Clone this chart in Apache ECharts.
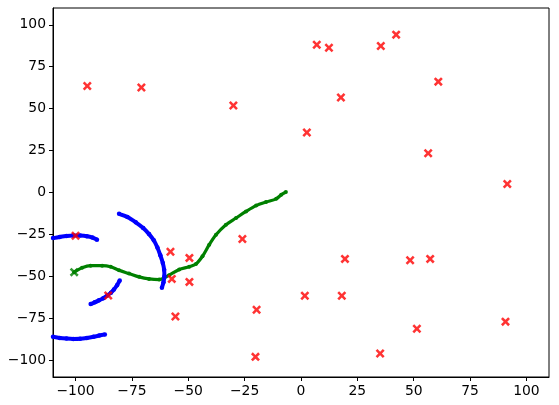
<!DOCTYPE html>
<html>
<head>
<meta charset="utf-8">
<script src="https://cdn.jsdelivr.net/npm/echarts@6/dist/echarts.min.js"></script>
<style>
  html, body { margin: 0; padding: 0; background: #fff; }
  #chart { width: 559px; height: 405px; }
</style>
</head>
<body>
<div id="chart"></div>
<script>
// tick positions on both axes
var xTicks = [-100, -75, -50, -25, 0, 25, 50, 75, 100]
var yTicks = [-100, -75, -50, -25, 0, 25, 50, 75, 100]

// red crosses
var redPoints = [
  [-94.8, 63.5], [-70.8, 62.6], [-30.0, 51.9], [2.6, 35.8], [7.0, 88.1],
  [12.4, 86.3], [35.4, 87.3], [42.2, 94.1], [60.9, 66.1], [17.7, 56.6],
  [56.4, 23.4], [91.5, 5.1], [19.5, -39.6], [48.4, -40.4], [57.3, -39.6],
  [1.7, -61.6], [18.1, -61.6], [51.4, -81.2], [90.7, -77.0], [35.1, -96.0],
  [-100.0, -25.8], [-57.9, -35.3], [-49.5, -39.0], [-26.0, -27.7], [-57.3, -51.5],
  [-49.5, -53.3], [-55.7, -73.9], [-19.7, -69.9], [-85.5, -61.4], [-20.2, -98.0]
]

// start point of the green path
var greenStart = [[-100.6, -47.5]]

// green path
var greenPath = [
  [-100.6, -47.5], [-97.1, -44.9], [-93.3, -43.6], [-88.2, -43.6], [-84.4, -44.3],
  [-80.7, -46.4], [-76.3, -48.3], [-71.8, -50.3], [-67.4, -51.5], [-62.9, -51.9],
  [-58.5, -49.3], [-54.0, -45.9], [-49.6, -44.3], [-46.6, -42.6], [-43.7, -38.0],
  [-40.7, -31.1], [-37.7, -25.2], [-33.3, -19.2], [-28.8, -15.2], [-24.4, -11.3],
  [-19.9, -7.8], [-15.5, -5.7], [-11.0, -3.8], [-8.8, -1.4], [-6.7, 0.3]
]

// blue arcs
var blueArc1 = [
  [-110, -27.2], [-107, -26.5], [-104, -25.9], [-101, -25.6], [-98, -25.7],
  [-95, -26.1], [-92.5, -26.9], [-90.5, -28.1]
]
var blueArc2 = [
  [-80.7, -12.7], [-77, -14.6], [-73.3, -17.8], [-70, -21.2], [-67.4, -24.8],
  [-65.3, -28.5], [-63.7, -32.8], [-62.4, -37.4], [-61.3, -42], [-60.7, -46],
  [-60.6, -50], [-61, -53.5], [-61.7, -56.8]
]
var blueArc3 = [
  [-93.3, -66.5], [-91.5, -65.5], [-89.6, -64.3], [-87.7, -63], [-85.9, -61.4],
  [-84.3, -59.7], [-83, -57.8], [-81.6, -55.3], [-80.4, -52.5]
]
var blueArc4 = [
  [-110, -86], [-107, -86.7], [-104, -87.1], [-101, -87.3], [-98, -87.2],
  [-95, -86.7], [-92, -86], [-89.5, -85.3], [-87, -84.6]
]

var crossPath = 'path://M0,2L2,0L5,3L8,0L10,2L7,5L10,8L8,10L5,7L2,10L0,8L3,5Z'
var fmt = function (v) { return String(v).replace('-', '\u2212') }

function arc(data) {
  return {
    type: 'line',
    data: data,
    smooth: 0.3,
    symbol: 'circle',
    symbolSize: 4.5,
    lineStyle: { color: '#0000ff', width: 4 },
    itemStyle: { color: '#0000ff' },
    z: 3
  }
}

var chart = echarts.init(document.getElementById('chart'))
chart.setOption({
  animation: false,
  grid: {
    left: 53, right: 10, top: 8, bottom: 28,
    show: true, borderColor: '#000', borderWidth: 1
  },
  xAxis: {
    type: 'value',
    min: -110,
    max: 110,
    splitLine: { show: false },
    axisLine: { onZero: false, lineStyle: { color: '#000', width: 1 } },
    axisTick: { inside: false, length: 4, lineStyle: { color: '#000' }, customValues: xTicks },
    axisLabel: {
      customValues: xTicks, formatter: fmt, margin: 7,
      color: '#000', fontFamily: 'DejaVu Sans', fontSize: 13.9
    }
  },
  yAxis: {
    type: 'value',
    min: -110,
    max: 110,
    splitLine: { show: false },
    axisLine: { onZero: false, lineStyle: { color: '#000', width: 1 } },
    axisTick: { inside: false, length: 4, lineStyle: { color: '#000' }, customValues: yTicks },
    axisLabel: {
      customValues: yTicks, formatter: fmt, margin: 7,
      color: '#000', fontFamily: 'DejaVu Sans', fontSize: 13.9
    }
  },
  series: [
    {
      type: 'line',
      data: greenPath,
      smooth: 0.3,
      symbol: 'circle',
      symbolSize: 4,
      lineStyle: { color: '#008000', width: 3.2 },
      itemStyle: { color: '#008000' },
      z: 2
    },
    arc(blueArc1),
    arc(blueArc2),
    arc(blueArc3),
    arc(blueArc4),
    {
      type: 'scatter',
      data: greenStart,
      symbol: crossPath,
      symbolSize: 9,
      itemStyle: { color: '#008000' },
      z: 4
    },
    {
      type: 'scatter',
      data: redPoints,
      symbol: crossPath,
      symbolSize: 9,
      itemStyle: { color: '#ff0000' },
      z: 5
    }
  ]
})
</script>
</body>
</html>
